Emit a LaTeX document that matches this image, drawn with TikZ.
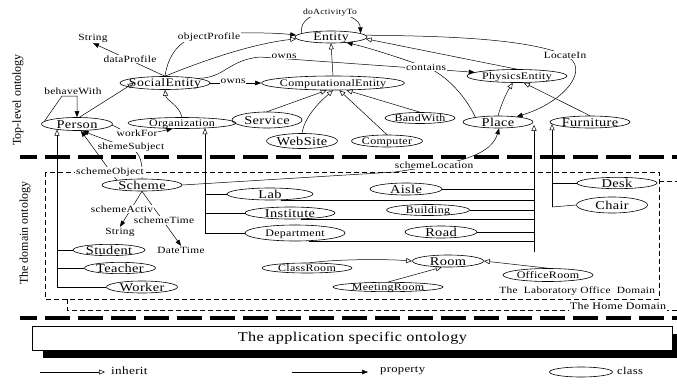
\documentclass[tikz,border=0pt]{standalone}
\usepackage{fontspec}
\setmainfont{Liberation Serif}[FakeStretch=1.2,LetterSpace=3]
\newfontfamily\vfont{Liberation Serif}
\usetikzlibrary{arrows.meta,shapes.geometric}
\newcommand\ct[1]{\makebox[0pt]{#1}}
\newcommand\fsB{\fontsize{12}{12}\selectfont}
\newcommand\fsM{\fontsize{11.5}{11.5}\selectfont}
\newcommand\fsS{\fontsize{10}{10}\selectfont}
\newcommand\fsL{\fontsize{9.5}{9.5}\selectfont}
\newcommand\fsT{\fontsize{8}{8}\selectfont}
\begin{document}
\begin{tikzpicture}[x=1pt,y=-1pt,
  cls/.style={draw, ellipse, inner sep=0pt, line width=0.6pt, font=\fsB, text height=8pt, text depth=0pt},
  clsm/.style={cls, font=\fsM, text height=7.6pt},
  clss/.style={cls, font=\fsS, text height=6.6pt},
  lbl/.style={font=\fsL, inner sep=0.8pt},
  lblw/.style={lbl, fill=white},
  ln/.style={line width=0.5pt},
  inh/.style={ln, -{Triangle[open,length=6pt,width=5pt]}},
  prop/.style={ln, -{Triangle[length=6pt,width=4.5pt]}},
  thickdash/.style={line width=3.5pt, dash pattern=on 25pt off 8pt, dash phase=8pt},
  domdash/.style={line width=0.6pt, dash pattern=on 5pt off 3pt}
]
\useasboundingbox (0,0) rectangle (677,383);

% separators and domain boxes
\draw[thickdash] (20,157) -- (677,157);
\draw[thickdash] (20,318) -- (677,318);
\draw[domdash] (659,181) -- (677,181);
\draw[domdash] (67,299) -- (67,310) -- (677,310);
\draw[domdash] (45,172) rectangle (659,299);

% vertical titles
\node[rotate=90, font=\vfont\fontsize{12}{12}\selectfont] (tTop) at (18,100) {Top-level ontology};
\node[rotate=90, font=\vfont\fontsize{12}{12}\selectfont] (tDomain) at (25,233) {The domain ontology};

% top-level classes
\node[clsm, minimum width=72pt, minimum height=12pt] (Entity) at (331,37) {\ct{Entity}};
\node[clsm, minimum width=90pt, minimum height=13pt] (SocialEntity) at (165,83) {\ct{SocialEntity}};
\node[cls, minimum width=71pt, minimum height=13pt] (Person) at (77,124) {\ct{Person}};
\node[clss, minimum width=108pt, minimum height=11pt] (Organization) at (182,123) {\ct{Organization}};
\node[clss, minimum width=143pt, minimum height=14pt] (ComputationalEntity) at (333,83) {\ct{ComputationalEntity}};
\node[cls, minimum width=70pt, minimum height=16pt] (Service) at (267,120) {\ct{Service}};
\node[cls, minimum width=71pt, minimum height=15pt] (WebSite) at (302,141) {\ct{WebSite}};
\node[clss, minimum width=71pt, minimum height=12pt] (Computer) at (387,141) {\ct{Computer}};
\node[clss, minimum width=70pt, minimum height=11pt] (BandWith) at (420,118) {\ct{BandWith}};
\node[clss, minimum width=100pt, minimum height=13pt] (PhysicsEntity) at (517,76) {\ct{PhysicsEntity}};
\node[cls, minimum width=70pt, minimum height=12pt] (Place) at (498,122) {\ct{Place}};
\node[cls, minimum width=80pt, minimum height=12pt] (Furniture) at (590,122) {\ct{Furniture}};

% domain classes
\node[cls, minimum width=80pt, minimum height=12pt] (Scheme) at (142,185) {\ct{Scheme}};
\node[cls, minimum width=72pt, minimum height=11pt] (Student) at (109,250) {\ct{Student}};
\node[cls, minimum width=71pt, minimum height=11pt] (Teacher) at (120,268) {\ct{Teacher}};
\node[cls, minimum width=71pt, minimum height=12pt] (Worker) at (142,287) {\ct{Worker}};
\node[cls, minimum width=86pt, minimum height=12pt] (Lab) at (270,194) {\ct{Lab}};
\node[cls, minimum width=90pt, minimum height=12pt] (Institute) at (290,213) {\ct{Institute}};
\node[clss, minimum width=100pt, minimum height=16pt] (Department) at (295,233) {\ct{Department}};
\node[cls, minimum width=72pt, minimum height=12pt] (Aisle) at (406,189) {\ct{Aisle}};
\node[clss, minimum width=83pt, minimum height=11pt] (Building) at (428,210) {\ct{Building}};
\node[cls, minimum width=72pt, minimum height=12pt] (Road) at (441,232) {\ct{Road}};
\node[cls, minimum width=80pt, minimum height=11pt] (Desk) at (617,183) {\ct{Desk}};
\node[cls, minimum width=71pt, minimum height=16pt] (Chair) at (612,205) {\ct{Chair}};
\node[cls, minimum width=71pt, minimum height=12pt] (Room) at (448,261) {\ct{Room}};
\node[clss, minimum width=90pt, minimum height=10pt] (ClassRoom) at (307,268) {\ct{ClassRoom}};
\node[clss, minimum width=110pt, minimum height=9pt] (MeetingRoom) at (388,287) {\ct{MeetingRoom}};
\node[clss, minimum width=90pt, minimum height=13pt] (OfficeRoom) at (548,275) {\ct{OfficeRoom}};

% datatype targets
\node[lbl] (String1) at (93,38) {String};
\node[lbl] (String2) at (120,232) {String};
\node[lbl] (DateTime) at (181,250) {DateTime};

% top-level connectors
\draw[prop] (SocialEntity.north) -- (String1.south);
\draw[prop] (SocialEntity.north) .. controls (168,55) and (180,36) .. (209,34) .. controls (250,32) and (278,33) .. (Entity.177);
\draw[inh] (SocialEntity.north) .. controls (200,62) and (250,44) .. (Entity.183);
\draw[prop] (Entity.173) .. controls (300,20) and (312,13) .. (330,13) .. controls (348,13) and (360,20) .. (Entity.7);
\draw[prop] (SocialEntity.8) .. controls (225,78) and (228,60) .. (260,57) -- (PhysicsEntity.175);
\draw[prop] (SocialEntity.east) -- (ComputationalEntity.west);
\draw[prop] (Place.168) .. controls (465,95) and (445,74) .. (426,67) .. controls (400,58) and (370,48) .. (Entity.-20);
\draw[inh] (PhysicsEntity.north) -- (Entity.-3);
\draw[prop] (Entity.3) .. controls (440,36) and (525,38) .. (565,55) .. controls (592,68) and (565,102) .. (Place.16);
\draw[inh] (Place.north) .. controls (502,102) and (507,92) .. (PhysicsEntity.-122);
\draw[inh] (Furniture.north) -- (PhysicsEntity.-45);
\draw[inh] (ComputationalEntity.north) -- (Entity.south);
\draw[inh] (Service.north) -- (ComputationalEntity.-131);
\draw[inh] (WebSite.north) .. controls (305,115) and (322,100) .. (ComputationalEntity.-90);
\draw[inh] (Computer.north) -- (ComputationalEntity.-49);
\draw[inh] (BandWith.north) -- (ComputationalEntity.-28);
\draw[inh] (Person.70) -- ([xshift=14pt]SocialEntity.west);
\draw[inh] (Organization.north) .. controls (179,105) and (166,100) .. (SocialEntity.south);
\draw[prop] (Person.175) -- (62,96) -- (77,96) -- (Person.north);
\draw[prop] (Person.-2) .. controls (120,128) and (125,134) .. (137,134) .. controls (150,134) and (162,131) .. (Organization.-149);
\draw[prop] (Scheme.north) .. controls (143,165) and (141,152) .. (130,148) .. controls (112,142) and (95,136) .. (Person.-50);
\draw[prop] (Scheme.169) -- (Person.-60);

% inheritance trees in the domain
\coordinate (pv) at (57,287);
\draw[inh] (pv) -- (pv |- Person.195);
\draw[ln] (Student.west) -- (Student.west -| pv);
\draw[ln] (Teacher.west) -- (Teacher.west -| pv);
\draw[ln] (Worker.west) -- (pv);

\coordinate (ov) at (205,233);
\draw[inh] (ov) -- (ov |- Organization.-12);
\draw[ln] (Lab.west) -- (Lab.west -| ov);
\draw[ln] (Institute.west) -- (Institute.west -| ov);
\draw[ln] (Department.west) -- (ov);

\coordinate (pl) at (534,252);
\draw[inh] (pl) -- (pl |- Place.-5);
\draw[ln] (Aisle.east) -- (Aisle.east -| pl);
\draw[ln] (Lab.-30) -- (Lab.-30 -| pl);
\draw[ln] (Building.east) -- (Building.east -| pl);
\draw[ln] (Institute.-30) -- (Institute.-30 -| pl);
\draw[ln] (Road.east) -- (Road.east -| pl);
\draw[ln] (Department.-30) -- (Department.-30 -| pl);

\coordinate (fv) at (552,207);
\draw[inh] (fv) -- (fv |- Furniture.183);
\draw[ln] (Desk.west) -- (Desk.west -| fv);
\draw[ln] (Chair.west) -- (fv);

% scheme properties
\draw[prop] (Scheme.south) -- (String2.north);
\draw[prop] (Scheme.south) -- (DateTime.north);
\draw[prop] (Scheme.east) -- (395,172) .. controls (440,165) and (490,160) .. (Place.-80);

% rooms
\draw[inh] (ClassRoom.60) .. controls (340,259) and (385,259) .. (Room.west);
\draw[inh] (MeetingRoom.north) -- (Room.-135);
\draw[inh] (OfficeRoom.north) -- (Room.east);

% connector labels
\node[lblw] (lDataProfile) at (130,59) {dataProfile};
\node[lblw] (lObjectProfile) at (209,37) {objectProfile};
\node[lblw, font=\fsT] (lDoActivity) at (330,13) {doActivityTo};
\node[lblw] (lOwnsA) at (284,56) {owns};
\node[lblw] (lOwnsB) at (233,81) {owns};
\node[lblw] (lContains) at (426,67) {contains};
\node[lblw] (lLocateIn) at (565,55) {LocateIn};
\node[lblw] (lBehaveWith) at (73,91) {behaveWith};
\node[lblw] (lWorkFor) at (137,133) {workFor};
\node[lblw] (lShemeSubject) at (131,147) {shemeSubject};
\node[lblw] (lSchemeObject) at (110,172) {schemeObject};
\node[lblw] (lSchemeLocation) at (434,165) {schemeLocation};
\node[lblw] (lSchemeActiv) at (122,209) {schemeActiv};
\node[lblw] (lSchemeTime) at (164,220.5) {schemeTime};

% domain labels
\node[lbl, anchor=south east] (tLab) at (656,297) {The\ \ Laboratory Office\ \ Domain};
\node[lbl, fill=white, inner sep=1pt, font=\fsS] (tHome) at (618,306) {The Home Domain};

% application ontology box
\fill (43,334) rectangle (677,358);
\node[draw, fill=white, line width=0.6pt, minimum width=640pt, minimum height=24pt, anchor=north west, inner sep=0pt, font=\fontsize{13.5}{13.5}\selectfont] (App) at (32,326) {The application specific ontology};

% legend
\coordinate (li1) at (40,372);
\coordinate (li2) at (105,372);
\draw[inh] (li1) -- (li2);
\node[anchor=west, font=\fontsize{11}{11}\selectfont, inner sep=0pt] (tInherit) at (111,371) {inherit};
\coordinate (lp1) at (292,372);
\coordinate (lp2) at (368,372);
\draw[prop] (lp1) -- (lp2);
\node[anchor=west, font=\fontsize{10.5}{10.5}\selectfont, inner sep=0pt] (tProperty) at (380,371) {property};
\node[draw, ellipse, line width=0.6pt, minimum width=63pt, minimum height=10pt, inner sep=0pt] (lgClass) at (581,372) {};
\node[anchor=west, font=\fontsize{10.5}{10.5}\selectfont, inner sep=0pt] (tClass) at (617,371) {class};
\end{tikzpicture}
\end{document}
